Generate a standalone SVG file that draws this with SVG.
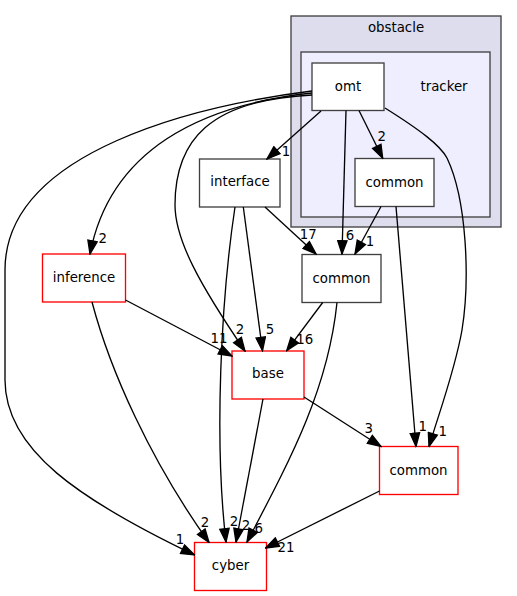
<svg xmlns="http://www.w3.org/2000/svg" width="517" height="596" viewBox="0 0 517 596">
<defs>
<marker id="ah" viewBox="-1 -1 15.3 11.4" refX="13.3" refY="4.7" markerWidth="15.3" markerHeight="11.4" markerUnits="userSpaceOnUse" orient="auto">
<path d="M0,0 L13.3,4.7 L0,9.4 z" fill="#000" stroke="#000" stroke-width="1.33"/>
</marker>
</defs>
<style>
text{font-family:"DejaVu Sans","Liberation Sans",sans-serif;font-size:13.33px;fill:#000}
.n{text-anchor:middle}
.box{fill:#fff;stroke:#404040;stroke-width:1.33}
.red{fill:#fff;stroke:#ff0000;stroke-width:1.33}
.e path{fill:none;stroke:#000;stroke-width:1.33;marker-end:url(#ah)}
.e text{text-anchor:middle}
</style>
<rect width="517" height="596" fill="#fff"/>
<g id="cluster_obstacle">
<rect x="291" y="16" width="210" height="211" fill="#ddddee" stroke="#404040" stroke-width="1.33"/>
<text class="n" x="396" y="32">obstacle</text>
</g>
<g id="cluster_tracker">
<rect x="301" y="52" width="189" height="165" fill="#eeeeff" stroke="#404040" stroke-width="1.33"/>
<text class="n" x="444" y="91">tracker</text>
</g>
<g id="node_omt">
<rect class="box" x="312" y="63" width="72" height="47.5"/>
<text class="n" x="348" y="91">omt</text>
</g>
<g id="node_common_tracker">
<rect class="box" x="355" y="158.5" width="79" height="48"/>
<text class="n" x="394.5" y="187">common</text>
</g>
<g id="node_interface">
<rect class="box" x="199.5" y="159" width="80.5" height="48"/>
<text class="n" x="240" y="186">interface</text>
</g>
<g id="node_inference">
<rect class="red" x="42.5" y="254" width="83" height="48"/>
<text class="n" x="84" y="282">inference</text>
</g>
<g id="node_common_obstacle">
<rect class="box" x="302" y="254.5" width="79" height="48"/>
<text class="n" x="341.5" y="282.5">common</text>
</g>
<g id="node_base">
<rect class="red" x="232" y="351" width="72" height="48"/>
<text class="n" x="268" y="378">base</text>
</g>
<g id="node_common_perception">
<rect class="red" x="379.5" y="446.5" width="78.5" height="48"/>
<text class="n" x="418.5" y="475">common</text>
</g>
<g id="node_cyber">
<rect class="red" x="194.5" y="542.5" width="72" height="48"/>
<text class="n" x="230.5" y="570">cyber</text>
</g>
<g id="edges" class="e">
<path d="M321,111 L267,159"/>
<text x="286" y="156">1</text>
<path d="M359,110.5 L382.7,158.3"/>
<text x="381.7" y="141">2</text>
<path d="M346,110.5 L342,254"/>
<text x="350" y="240">6</text>
<path d="M381,206.5 L355,254"/>
<text x="370" y="245.7">1</text>
<path d="M265,207 L316,254"/>
<text x="308.3" y="238.5">17</text>
<path d="M243.3,207 L262.5,350.7"/>
<text x="270" y="334">5</text>
<path d="M235,207 C221,300 214,440 226,542"/>
<text x="234" y="526">2</text>
<path d="M322.7,302.5 L286.7,350.7"/>
<text x="304.7" y="344">16</text>
<path d="M337,302.5 C328,390 290,460 247,542"/>
<text x="258.7" y="533">6</text>
<path d="M263,399 L236,542"/>
<text x="246" y="530">2</text>
<path d="M304,397 L381,446.5"/>
<text x="368.7" y="433">3</text>
<path d="M396,206.5 L416,446.5"/>
<text x="422.7" y="431">1</text>
<path d="M385,108 C420,130 440,145 447,158 C467,200 470,280 462,330 C455,370 440,410 429,446.5"/>
<text x="442.7" y="436">1</text>
<path d="M379.5,491 L265.5,548"/>
<text x="286" y="551.5">21</text>
<path d="M125.5,300 L232,356"/>
<text x="219" y="343">11</text>
<path d="M92,302 C110,370 150,460 209,542.5"/>
<text x="205" y="526.7">2</text>
<path d="M312,91 C200,105 5,150 5,270 L5,380 C5,450 80,500 194.5,555"/>
<text x="180" y="544">1</text>
<path d="M312,93 C200,105 110,150 90,254"/>
<text x="102.7" y="243">2</text>
<path d="M312,95 C210,100 175,140 175,205 C175,240 200,285 245,351"/>
<text x="240" y="334">2</text>
</g>
</svg>
